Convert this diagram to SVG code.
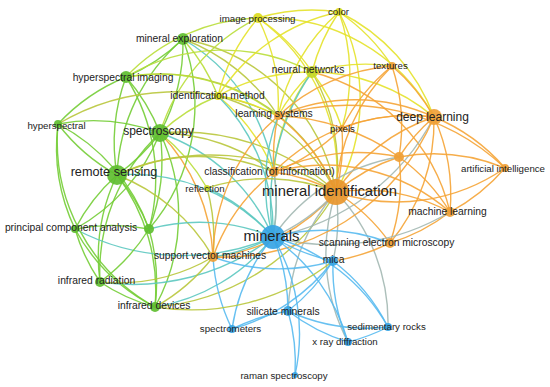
<svg xmlns="http://www.w3.org/2000/svg" width="550" height="387" viewBox="0 0 550 387">
<style>
#edges path{fill:none;stroke-opacity:0.9;stroke-width:1.4;stroke-linecap:round}
.g{stroke:#74cd36}.lg{stroke:#b9de3a}.y{stroke:#e4e22a}.v{stroke:#b9c63c}.o{stroke:#f5a436}.t{stroke:#5cc8c0}.gb{stroke:#a3b8b2}.b{stroke:#58baf0}
.w2{stroke-width:2.1}.w3{stroke-width:3}
.ng{fill:#5fbe30}.ny{fill:#dcdc1e}.nyg{fill:#c6d826}.no{fill:#efa036}.nb{fill:#36a4e4}
circle{fill-opacity:0.92}
text{font-family:"Liberation Sans",Arial,sans-serif;fill:#222;text-anchor:middle;dominant-baseline:central}
.s{font-size:9.7px}.m{font-size:10.3px}.l{font-size:12px}.xl{font-size:14.8px}
</style>
<rect width="550" height="387" fill="#fff"/>
<g id="edges">
<path class="g" d="M183 39 A190 190 0 0 1 126 77"/>
<path class="g" d="M183 39 A190 190 0 0 1 160 133"/>
<path class="g" d="M183 39 A190 190 0 0 0 117 175"/>
<path class="g" d="M183 39 A190 190 0 0 1 149 229"/>
<path class="v" d="M183 39 A190 190 0 0 1 336 192"/>
<path class="t" d="M183 39 A190 190 0 0 1 273 237"/>
<path class="v" d="M183 39 A190 190 0 0 1 278 116"/>
<path class="g" d="M126 77 A190 190 0 0 0 58 124"/>
<path class="g w2" d="M126 77 A190 190 0 0 1 160 133"/>
<path class="g w2" d="M126 77 A190 190 0 0 0 117 175"/>
<path class="g" d="M126 77 A190 190 0 0 1 149 229"/>
<path class="v" d="M126 77 A190 190 0 0 1 336 192"/>
<path class="lg" d="M126 77 A190 190 0 0 1 312 72"/>
<path class="g" d="M58 124 A190 190 0 0 1 160 133"/>
<path class="g" d="M58 124 A190 190 0 0 0 117 175"/>
<path class="g" d="M58 124 A190 190 0 0 1 149 229"/>
<path class="v" d="M58 124 A230 230 0 0 1 278 116"/>
<path class="g w3" d="M160 133 A190 190 0 0 1 117 175"/>
<path class="g" d="M160 133 A190 190 0 0 1 149 229"/>
<path class="g" d="M160 133 A190 190 0 0 1 75 229"/>
<path class="g" d="M160 133 A190 190 0 0 0 100 282"/>
<path class="g" d="M160 133 A190 190 0 0 1 155 307"/>
<path class="v w3" d="M160 133 A230 230 0 0 1 336 192"/>
<path class="t w3" d="M160 133 A190 190 0 0 1 273 237"/>
<path class="v" d="M160 133 A190 190 0 0 1 274 172"/>
<path class="o" d="M160 133 A190 190 0 0 1 213 257"/>
<path class="lg" d="M160 133 A190 190 0 0 1 207 188"/>
<path class="g" d="M117 175 A190 190 0 0 0 75 229"/>
<path class="g" d="M117 175 A190 190 0 0 0 100 282"/>
<path class="g w2" d="M117 175 A190 190 0 0 1 155 307"/>
<path class="g" d="M117 175 A190 190 0 0 1 149 229"/>
<path class="v w3" d="M117 175 A230 230 0 0 1 336 192"/>
<path class="t w3" d="M117 175 A190 190 0 0 1 273 237"/>
<path class="v" d="M117 175 A190 190 0 0 1 213 257"/>
<path class="v" d="M117 175 A190 190 0 0 1 274 172"/>
<path class="g" d="M75 229 A190 190 0 0 0 100 282"/>
<path class="g" d="M75 229 A190 190 0 0 1 149 229"/>
<path class="g" d="M75 229 A190 190 0 0 0 155 307"/>
<path class="t" d="M75 229 A230 230 0 0 0 273 237"/>
<path class="g" d="M149 229 A190 190 0 0 1 100 282"/>
<path class="g" d="M149 229 A190 190 0 0 1 155 307"/>
<path class="t" d="M149 229 A190 190 0 0 1 273 237"/>
<path class="g" d="M100 282 A190 190 0 0 0 155 307"/>
<path class="t" d="M100 282 A230 230 0 0 0 273 237"/>
<path class="t w2" d="M155 307 A190 190 0 0 0 273 237"/>
<path class="v w2" d="M155 307 A230 230 0 0 0 336 192"/>
<path class="v" d="M155 307 A190 190 0 0 0 213 257"/>
<path class="g" d="M58 124 A190 190 0 0 0 155 307"/>
<path class="v" d="M100 282 A190 190 0 0 0 213 257"/>
<path class="g" d="M58 124 A190 190 0 0 0 75 229"/>
<path class="lg" d="M183 39 A190 190 0 0 1 218 96"/>
<path class="lg" d="M126 77 A190 190 0 0 1 278 116"/>
<path class="y" d="M258 18 A190 190 0 0 1 339 12"/>
<path class="y" d="M258 18 A190 190 0 0 1 312 72"/>
<path class="y" d="M258 18 A190 190 0 0 0 218 96"/>
<path class="y" d="M258 18 A190 190 0 0 1 278 116"/>
<path class="y" d="M258 18 A190 190 0 0 1 434 117"/>
<path class="y" d="M258 18 A190 190 0 0 1 336 192"/>
<path class="lg" d="M258 18 A190 190 0 0 0 126 77"/>
<path class="y" d="M339 12 A190 190 0 0 0 312 72"/>
<path class="y" d="M339 12 A190 190 0 0 0 278 116"/>
<path class="y" d="M339 12 A190 190 0 0 1 434 117"/>
<path class="y" d="M339 12 A190 190 0 0 1 336 192"/>
<path class="y" d="M339 12 A190 190 0 0 1 342 128"/>
<path class="y" d="M339 12 A190 190 0 0 0 218 96"/>
<path class="y" d="M339 12 A190 190 0 0 1 392 66"/>
<path class="y" d="M312 72 A190 190 0 0 0 278 116"/>
<path class="y" d="M312 72 A190 190 0 0 0 218 96"/>
<path class="y" d="M312 72 A190 190 0 0 1 434 117"/>
<path class="v w2" d="M312 72 A190 190 0 0 1 336 192"/>
<path class="y" d="M312 72 A190 190 0 0 1 342 128"/>
<path class="y" d="M312 72 A190 190 0 0 0 274 172"/>
<path class="o" d="M312 72 A190 190 0 0 1 450 212"/>
<path class="y" d="M312 72 A190 190 0 0 1 392 66"/>
<path class="t" d="M312 72 A230 230 0 0 0 273 237"/>
<path class="y" d="M218 96 A190 190 0 0 1 278 116"/>
<path class="v" d="M218 96 A190 190 0 0 1 336 192"/>
<path class="y" d="M218 96 A190 190 0 0 1 274 172"/>
<path class="t" d="M218 96 A190 190 0 0 1 273 237"/>
<path class="lg" d="M218 96 A190 190 0 0 0 160 133"/>
<path class="v" d="M207 188 A190 190 0 0 1 336 192"/>
<path class="t" d="M207 188 A190 190 0 0 1 273 237"/>
<path class="v" d="M207 188 A190 190 0 0 1 213 257"/>
<path class="lg" d="M258 18 A190 190 0 0 0 160 133"/>
<path class="o" d="M392 66 A190 190 0 0 1 434 117"/>
<path class="o" d="M392 66 A190 190 0 0 0 336 192"/>
<path class="o" d="M392 66 A190 190 0 0 0 278 116"/>
<path class="o" d="M392 66 A190 190 0 0 1 399 157"/>
<path class="o w2" d="M434 117 A190 190 0 0 0 399 157"/>
<path class="o" d="M434 117 A190 190 0 0 1 505 168"/>
<path class="o w2" d="M434 117 A190 190 0 0 1 450 212"/>
<path class="o w3" d="M434 117 A190 190 0 0 0 336 192"/>
<path class="o" d="M434 117 A190 190 0 0 0 278 116"/>
<path class="o" d="M434 117 A190 190 0 0 0 342 128"/>
<path class="o" d="M434 117 A190 190 0 0 0 274 172"/>
<path class="o" d="M434 117 A190 190 0 0 1 390 243"/>
<path class="gb" d="M434 117 A230 230 0 0 1 273 237"/>
<path class="o" d="M505 168 A190 190 0 0 0 399 157"/>
<path class="o" d="M505 168 A190 190 0 0 1 450 212"/>
<path class="o" d="M505 168 A190 190 0 0 1 336 192"/>
<path class="o" d="M505 168 A230 230 0 0 0 278 116"/>
<path class="o w2" d="M399 157 A190 190 0 0 0 336 192"/>
<path class="o" d="M399 157 A190 190 0 0 1 450 212"/>
<path class="o" d="M399 157 A190 190 0 0 0 342 128"/>
<path class="o" d="M399 157 A190 190 0 0 1 390 243"/>
<path class="gb" d="M399 157 A190 190 0 0 0 273 237"/>
<path class="o" d="M399 157 A190 190 0 0 0 274 172"/>
<path class="o" d="M278 116 A190 190 0 0 0 274 172"/>
<path class="o w2" d="M278 116 A190 190 0 0 1 336 192"/>
<path class="t" d="M278 116 A190 190 0 0 0 273 237"/>
<path class="o" d="M278 116 A190 190 0 0 0 213 257"/>
<path class="o" d="M278 116 A190 190 0 0 1 342 128"/>
<path class="o" d="M342 128 A190 190 0 0 1 336 192"/>
<path class="o" d="M342 128 A190 190 0 0 1 274 172"/>
<path class="o w2" d="M274 172 A190 190 0 0 1 336 192"/>
<path class="gb w2" d="M274 172 A190 190 0 0 1 273 237"/>
<path class="o" d="M274 172 A190 190 0 0 0 213 257"/>
<path class="o w2" d="M336 192 A190 190 0 0 1 450 212"/>
<path class="o" d="M336 192 A190 190 0 0 1 390 243"/>
<path class="o w2" d="M336 192 A190 190 0 0 1 213 257"/>
<path class="gb w3" d="M336 192 A190 190 0 0 1 273 237"/>
<path class="gb" d="M336 192 A190 190 0 0 1 333 261"/>
<path class="gb" d="M336 192 A190 190 0 0 0 288 311"/>
<path class="gb" d="M336 192 A190 190 0 0 1 388 327"/>
<path class="gb" d="M336 192 A190 190 0 0 0 348 342"/>
<path class="o" d="M450 212 A190 190 0 0 1 390 243"/>
<path class="gb" d="M450 212 A230 230 0 0 1 273 237"/>
<path class="o" d="M450 212 A190 190 0 0 0 274 172"/>
<path class="b" d="M390 243 A190 190 0 0 0 273 237"/>
<path class="o" d="M390 243 A190 190 0 0 1 333 261"/>
<path class="t" d="M213 257 A190 190 0 0 0 273 237"/>
<path class="o" d="M392 66 A190 190 0 0 0 342 128"/>
<path class="o" d="M434 117 A230 230 0 0 1 213 257"/>
<path class="b w2" d="M273 237 A190 190 0 0 0 333 261"/>
<path class="b" d="M273 237 A190 190 0 0 1 288 311"/>
<path class="b" d="M273 237 A190 190 0 0 0 232 329"/>
<path class="b" d="M273 237 A190 190 0 0 1 388 327"/>
<path class="b" d="M273 237 A190 190 0 0 1 348 342"/>
<path class="b" d="M273 237 A190 190 0 0 1 295 375"/>
<path class="b" d="M333 261 A190 190 0 0 1 288 311"/>
<path class="b" d="M333 261 A190 190 0 0 1 388 327"/>
<path class="b" d="M333 261 A190 190 0 0 0 348 342"/>
<path class="b" d="M333 261 A190 190 0 0 1 232 329"/>
<path class="b" d="M288 311 A190 190 0 0 0 232 329"/>
<path class="b" d="M288 311 A190 190 0 0 0 388 327"/>
<path class="b" d="M288 311 A190 190 0 0 0 348 342"/>
<path class="b" d="M288 311 A190 190 0 0 1 295 375"/>
<path class="b" d="M232 329 A190 190 0 0 1 213 257"/>
<path class="b" d="M388 327 A190 190 0 0 1 348 342"/>
<path class="v w2" d="M155 307 A230 230 0 0 0 333 261"/>
<path class="b" d="M213 257 A190 190 0 0 0 333 261"/>
</g>
<g id="n-mineral-exploration"><circle class="ng" cx="183" cy="39" r="6"/><text class="m" x="179.5" y="38">mineral exploration</text></g>
<g id="n-image-processing"><circle class="ny" cx="258" cy="18" r="5"/><text class="s" x="257.5" y="18">image processing</text></g>
<g id="n-color"><circle class="ny" cx="339" cy="12" r="4"/><text class="s" x="338.5" y="11">color</text></g>
<g id="n-hyperspectral-imaging"><circle class="ng" cx="126" cy="77" r="6"/><text class="m" x="123" y="77">hyperspectral imaging</text></g>
<g id="n-neural-networks"><circle class="nyg" cx="312" cy="72" r="6"/><text class="m" x="308" y="69">neural networks</text></g>
<g id="n-textures"><circle class="no" cx="392" cy="66" r="4"/><text class="s" x="390.5" y="65">textures</text></g>
<g id="n-identification-method"><circle class="ny" cx="218" cy="96" r="4"/><text class="m" x="217.5" y="95">identification method</text></g>
<g id="n-learning-systems"><circle class="no" cx="278" cy="116" r="4"/><text class="m" x="274" y="113">learning systems</text></g>
<g id="n-pixels"><circle class="no" cx="342" cy="128" r="3"/><text class="s" x="342.5" y="128">pixels</text></g>
<g id="n-deep-learning"><circle class="no" cx="434" cy="117" r="8"/><text class="l" x="432.5" y="117">deep learning</text></g>
<g id="n-hyperspectral"><circle class="ng" cx="58" cy="124" r="4"/><text class="s" x="56.5" y="125">hyperspectral</text></g>
<g id="n-spectroscopy"><circle class="ng" cx="160" cy="133" r="9"/><text class="l" x="158.5" y="131">spectroscopy</text></g>
<g id="n-artificial-intelligence"><circle class="no" cx="505" cy="168" r="4"/><text class="s" x="503" y="168">artificial intelligence</text></g>
<g id="n-unnamed-orange"><circle class="no" cx="399" cy="157" r="5"/></g>
<g id="n-remote-sensing"><circle class="ng" cx="117" cy="175" r="10"/><text class="xl" x="114" y="172" style="font-size:12.7px">remote sensing</text></g>
<g id="n-classification"><circle class="no" cx="274" cy="172" r="5"/><text class="m" x="269.5" y="171">classification (of information)</text></g>
<g id="n-reflection"><circle class="nyg" cx="207" cy="188" r="3"/><text class="s" x="205" y="188">reflection</text></g>
<g id="n-mineral-identification"><circle class="no" cx="336" cy="192" r="13" style="fill:#e8962c"/><text class="xl" x="329.5" y="191">mineral identification</text></g>
<g id="n-machine-learning"><circle class="no" cx="450" cy="212" r="5"/><text class="m" x="447.5" y="211">machine learning</text></g>
<g id="n-principal-component-analysis"><circle class="ng" cx="75" cy="229" r="4"/><text class="m" x="71" y="227">principal component analysis</text></g>
<g id="n-unnamed-green"><circle class="ng" cx="149" cy="229" r="5"/></g>
<g id="n-minerals"><circle class="nb" cx="273" cy="237" r="12"/><text class="xl" x="271.5" y="236">minerals</text></g>
<g id="n-scanning-electron-microscopy"><circle class="no" cx="390" cy="243" r="5"/><text class="m" x="386.5" y="242">scanning electron microscopy</text></g>
<g id="n-support-vector-machines"><circle class="no" cx="213" cy="257" r="5"/><text class="m" x="210" y="255">support vector machines</text></g>
<g id="n-mica"><circle class="nb" cx="333" cy="261" r="5"/><text class="m" x="333.5" y="259">mica</text></g>
<g id="n-infrared-radiation"><circle class="ng" cx="100" cy="282" r="5"/><text class="m" x="96.5" y="280">infrared radiation</text></g>
<g id="n-infrared-devices"><circle class="ng" cx="155" cy="307" r="5"/><text class="m" x="154" y="305">infrared devices</text></g>
<g id="n-silicate-minerals"><circle class="nb" cx="288" cy="311" r="5"/><text class="m" x="283" y="311">silicate minerals</text></g>
<g id="n-spectrometers"><circle class="nb" cx="232" cy="329" r="4"/><text class="s" x="230.5" y="328">spectrometers</text></g>
<g id="n-sedimentary-rocks"><circle class="nb" cx="388" cy="327" r="4"/><text class="s" x="386.5" y="326">sedimentary rocks</text></g>
<g id="n-x-ray-diffraction"><circle class="nb" cx="348" cy="342" r="4"/><text class="s" x="345" y="341">x ray diffraction</text></g>
<g id="n-raman-spectroscopy"><circle class="nb" cx="295" cy="375" r="3"/><text class="s" x="284" y="375">raman spectroscopy</text></g>
</svg>
